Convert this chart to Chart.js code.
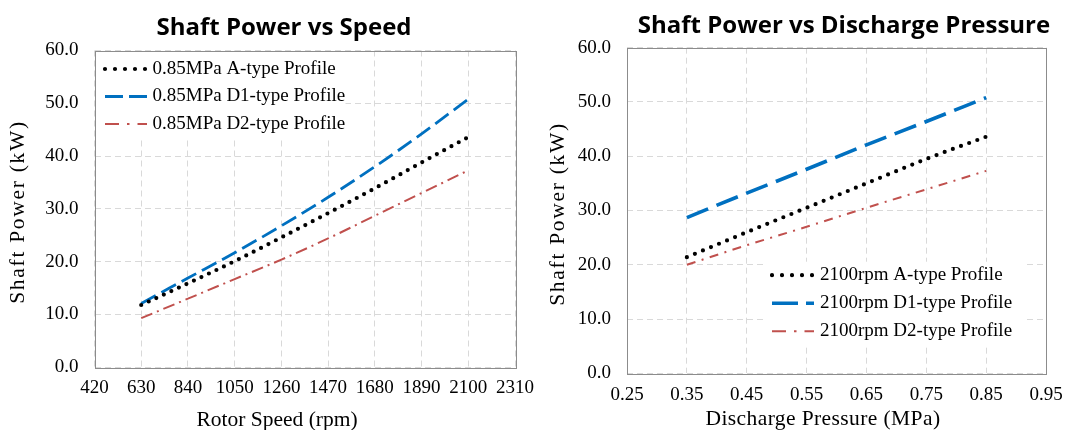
<!DOCTYPE html>
<html>
<head>
<meta charset="utf-8">
<script src="https://cdn.jsdelivr.net/npm/chart.js@4.4.1/dist/chart.umd.min.js"></script>
<style>
html, body { margin: 0; padding: 0; background: #fff; overflow: hidden; width: 1073px; height: 430px; }
canvas { position: absolute; top: 0; }
#speedChart { left: 0; }
#pressureChart { left: 540px; }
</style>
</head>
<body>
<canvas id="speedChart" width="568" height="440"></canvas>
<canvas id="pressureChart" width="533" height="440"></canvas>
<script>
// left chart: shaft power (kW) vs rotor speed (rpm), at 0.85 MPa
const speedRpm = [630, 840, 1050, 1260, 1470, 1680, 1890, 2100];
const speedPowerA  = [11.8, 15.9, 20.1, 24.6, 29.2, 33.9, 38.8, 43.6];
const speedPowerD1 = [12.1, 16.9, 21.7, 26.8, 32.2, 38.0, 44.2, 50.8];
const speedPowerD2 = [9.3, 13.0, 16.7, 20.4, 24.4, 28.7, 33.0, 37.3];
const speedLabels = ['0.85MPa A-type Profile', '0.85MPa D1-type Profile', '0.85MPa D2-type Profile'];

// right chart: shaft power (kW) vs discharge pressure (MPa), at 2100 rpm
const pressureMPa = [0.35, 0.45, 0.55, 0.65, 0.75, 0.85];
const pressurePowerA  = [21.4, 26.0, 30.5, 35.0, 39.5, 43.6];
const pressurePowerD1 = [28.7, 33.2, 37.6, 42.1, 46.4, 50.8];
const pressurePowerD2 = [20.0, 23.6, 27.0, 30.5, 33.9, 37.3];
const pressureLabels = ['2100rpm A-type Profile', '2100rpm D1-type Profile', '2100rpm D2-type Profile'];

const serif = '"Liberation Serif", "Times New Roman", serif';

function toPoints(xs, ys) {
    return xs.map((x, i) => ({x: x, y: ys[i]}));
}

// box round the plot area, and a white box behind the legend
const framePlugin = {
    id: 'plotFrame',
    beforeDatasetsDraw(chart, args, opts) {
        const a = chart.chartArea;
        const ctx = chart.ctx;
        ctx.save();
        const b = opts.legendBox;
        ctx.fillStyle = '#fff';
        ctx.fillRect(a.left + b.left, a.top + b.top, b.width, b.height);
        ctx.strokeStyle = '#8c8c8c';
        ctx.lineWidth = 1;
        ctx.strokeRect(Math.round(a.left) + 0.5, Math.round(a.top) + 0.5,
                       Math.round(a.right - a.left), Math.round(a.bottom - a.top));
        ctx.restore();
    }
};

// legend drawn inside the plot, like the excel one
const insideLegend = {
    id: 'insideLegend',
    afterDatasetsDraw(chart, args, o) {
        const ctx = chart.ctx;
        const a = chart.chartArea;
        ctx.save();
        ctx.font = '19px ' + serif;
        ctx.textBaseline = 'middle';
        ctx.fillStyle = '#000';
        chart.data.datasets.forEach((ds, i) => {
            const y = a.top + o.top + i * o.rowGap;
            const x0 = a.left + o.left;
            ctx.save();
            ctx.strokeStyle = ds.borderColor;
            ctx.lineWidth = ds.borderWidth;
            ctx.lineCap = ds.borderCapStyle || 'butt';
            ctx.setLineDash(ds.legendDash || ds.borderDash || []);
            ctx.beginPath();
            ctx.moveTo(x0, y);
            ctx.lineTo(x0 + o.sample, y);
            ctx.stroke();
            ctx.restore();
            ctx.fillText(ds.label, a.left + o.textLeft, y);
        });
        ctx.restore();
    }
};

// chart title and axis titles, placed where excel put them (not centred on the plot)
const captions = {
    id: 'captions',
    afterDraw(chart, args, o) {
        const ctx = chart.ctx;
        ctx.save();
        ctx.fillStyle = '#000';
        ctx.textAlign = 'center';
        ctx.textBaseline = 'alphabetic';

        ctx.font = 'bold 24px "Open Sans", sans-serif';
        ctx.fillText(o.title.text, o.title.x, o.title.y);

        ctx.font = '21.5px ' + serif;
        ctx.letterSpacing = o.xTitle.spacing + 'px';
        ctx.fillText(o.xTitle.text, o.xTitle.x, o.xTitle.y);

        // excel spreads the rotated title out a bit
        ctx.letterSpacing = '1.7px';
        ctx.translate(o.yTitle.x, o.yTitle.y);
        ctx.rotate(-Math.PI / 2);
        ctx.fillText(o.yTitle.text, 0, 0);
        ctx.restore();
    }
};

function makeChart(id, cfg) {
    const datasets = [
        {
            label: cfg.labels[0],
            data: toPoints(cfg.xs, cfg.a),
            borderColor: '#000000',
            borderWidth: 4.2,
            borderDash: [0, cfg.dotGap],
            borderCapStyle: 'round',
            legendDash: [0, 10],
        },
        {
            label: cfg.labels[1],
            data: toPoints(cfg.xs, cfg.d1),
            borderColor: '#0070C0',
            borderWidth: cfg.blueWidth,
            borderDash: cfg.blueDash,
            legendDash: cfg.blueLegendDash,
        },
        {
            label: cfg.labels[2],
            data: toPoints(cfg.xs, cfg.d2),
            borderColor: '#C0504D',
            borderWidth: 2,
            borderDash: cfg.redDash,
            legendDash: [14, 8, 2.5, 8],
        }
    ];
    datasets.forEach(ds => {
        ds.pointRadius = 0;
        ds.fill = false;
        ds.cubicInterpolationMode = 'monotone';
    });

    return new Chart(document.getElementById(id), {
        type: 'line',
        data: { datasets: datasets },
        plugins: [framePlugin, insideLegend, captions],
        options: {
            responsive: false,
            animation: false,
            events: [],
            layout: { padding: { left: 0, right: cfg.padRight, top: cfg.padTop, bottom: 0 } },
            plugins: {
                legend: { display: false },
                tooltip: { enabled: false },
                title: { display: false },
                plotFrame: { legendBox: cfg.legendBox },
                insideLegend: cfg.legend,
                captions: cfg.captions
            },
            scales: {
                x: {
                    type: 'linear',
                    min: cfg.xMin,
                    max: cfg.xMax,
                    afterFit: s => { s.height = cfg.xAxisHeight; },
                    grid: { color: '#d9d9d9', lineWidth: 1, drawTicks: false },
                    border: { display: false, dash: [6, 4] },
                    ticks: {
                        stepSize: cfg.xStep,
                        padding: cfg.xTickPad,
                        color: '#000',
                        font: { family: serif, size: 19 },
                        maxRotation: 0,
                        callback: cfg.xFormat
                    }
                },
                y: {
                    min: 0,
                    max: 60,
                    afterFit: s => { s.width = cfg.yAxisWidth; },
                    grid: { color: '#d9d9d9', lineWidth: 1, drawTicks: false },
                    border: { display: false, dash: [6, 4] },
                    ticks: {
                        stepSize: 10,
                        padding: 16,
                        color: '#000',
                        font: { family: serif, size: 19 },
                        callback: v => v.toFixed(1)
                    }
                }
            }
        }
    });
}

makeChart('speedChart', {
    labels: speedLabels,
    xs: speedRpm, a: speedPowerA, d1: speedPowerD1, d2: speedPowerD2,
    xMin: 420, xMax: 2310, xStep: 210,
    xFormat: v => String(v),
    padRight: 53,
    padTop: 50.5,
    yAxisWidth: 94.5,
    xAxisHeight: 72.7,
    xTickPad: 9.3,
    dotGap: 8.3,
    blueWidth: 2.8,
    blueDash: [16.5, 6.5],
    blueLegendDash: [18, 6],
    redDash: [12, 5, 2, 5],
    legend: { left: 10.5, top: 18.5, rowGap: 27.5, sample: 42, textLeft: 58 },
    legendBox: { left: 1, top: 1, width: 250, height: 86 },
    captions: {
        title: { text: 'Shaft Power vs Speed', x: 284, y: 35 },
        xTitle: { text: 'Rotor Speed (rpm)', x: 277, y: 426, spacing: 0 },
        yTitle: { text: 'Shaft Power (kW)', x: 24.2, y: 212 }
    }
});

makeChart('pressureChart', {
    labels: pressureLabels,
    xs: pressureMPa, a: pressurePowerA, d1: pressurePowerD1, d2: pressurePowerD2,
    xMin: 0.25, xMax: 0.95, xStep: 0.1,
    xFormat: v => v.toFixed(2),
    padRight: 15,
    padTop: 47.7,
    yAxisWidth: 87,
    xAxisHeight: 66.7,
    xTickPad: 10.3,
    dotGap: 8.7,
    blueWidth: 3.6,
    blueDash: [23, 9],
    blueLegendDash: [26, 8],
    redDash: [9, 6.5, 2, 6.5],
    legend: { left: 145, top: 227.5, rowGap: 28, sample: 42, textLeft: 193 },
    legendBox: { left: 140, top: 214, width: 256, height: 83 },
    captions: {
        title: { text: 'Shaft Power vs Discharge Pressure', x: 304, y: 33.3 },
        xTitle: { text: 'Discharge Pressure (MPa)', x: 283, y: 425, spacing: 0.4 },
        yTitle: { text: 'Shaft Power (kW)', x: 23.9, y: 214 }
    }
});
</script>
</body>
</html>
